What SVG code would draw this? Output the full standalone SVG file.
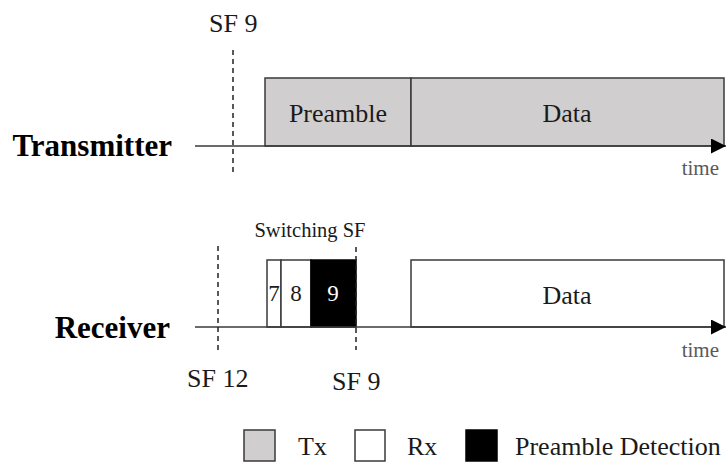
<svg xmlns="http://www.w3.org/2000/svg" width="727" height="463" viewBox="0 0 727 463">
<style>
text{font-family:"Liberation Serif","Times New Roman",serif;fill:#1a1a1a}
.big{font-size:26px}
.lbl{font-size:31px;font-weight:bold;fill:#000}
.time{font-size:21px;fill:#595959}
.tx{fill:#d0cece;stroke:#3a3a3a;stroke-width:1.5}
.rx{fill:#fff;stroke:#3a3a3a;stroke-width:1.5}
.pd{fill:#000;stroke:#000;stroke-width:1.5}
.axis{stroke:#3a3a3a;stroke-width:1.5;fill:none}
.dash{stroke:#222;stroke-width:1.5;stroke-dasharray:5 4;fill:none}
</style>
<defs>
<marker id="arr" viewBox="0 0 10 10" refX="10" refY="5" markerWidth="15" markerHeight="15" markerUnits="userSpaceOnUse" orient="auto">
<path d="M0,0 L10,5 L0,10 Z" fill="#000"/>
</marker>
</defs>

<g id="tx-preamble"><rect class="tx" x="265" y="78" width="146" height="68"/><text class="big" x="338" y="122" text-anchor="middle">Preamble</text></g>
<g id="tx-data"><rect class="tx" x="411" y="78" width="313" height="68"/><text class="big" x="567" y="122" text-anchor="middle">Data</text></g>

<g id="rx-7"><rect class="rx" x="267" y="260" width="14" height="67"/><text x="274" y="301" text-anchor="middle" style="font-size:23px">7</text></g>
<g id="rx-8"><rect class="rx" x="281" y="260" width="30" height="67"/><text x="296" y="301" text-anchor="middle" style="font-size:23px">8</text></g>
<g id="rx-9"><rect class="pd" x="311" y="260" width="45" height="67"/><text x="333" y="301" text-anchor="middle" style="font-size:23px;fill:#fff">9</text></g>
<g id="rx-data"><rect class="rx" x="411" y="260" width="313" height="67"/><text class="big" x="567" y="304" text-anchor="middle">Data</text></g>

<g id="connectors">
<line class="axis" x1="195" y1="146" x2="726" y2="146" marker-end="url(#arr)"/>
<line class="axis" x1="195" y1="327" x2="726" y2="327" marker-end="url(#arr)"/>
<line class="dash" x1="233" y1="50" x2="233" y2="173"/>
<line class="dash" x1="218" y1="246" x2="218" y2="350"/>
<line class="dash" x1="356" y1="247" x2="356" y2="350"/>
</g>

<g id="labels">
<text class="lbl" x="172" y="156" text-anchor="end">Transmitter</text>
<text class="lbl" x="170" y="338" text-anchor="end">Receiver</text>
<text class="big" x="209" y="32">SF 9</text>
<text class="time" x="719" y="175" text-anchor="end">time</text>
<text class="time" x="719" y="357" text-anchor="end">time</text>
<text x="310" y="237" text-anchor="middle" style="font-size:20.5px">Switching SF</text>
<text class="big" x="187" y="387">SF 12</text>
<text class="big" x="332" y="390">SF 9</text>
</g>

<g id="legend">
<rect class="tx" x="244" y="430" width="31" height="31"/>
<text class="big" x="298" y="455">Tx</text>
<rect class="rx" x="355" y="430" width="30" height="31"/>
<text class="big" x="407" y="455">Rx</text>
<rect class="pd" x="466" y="430" width="31" height="31"/>
<text class="big" x="515" y="455">Preamble Detection</text>
</g>
</svg>
